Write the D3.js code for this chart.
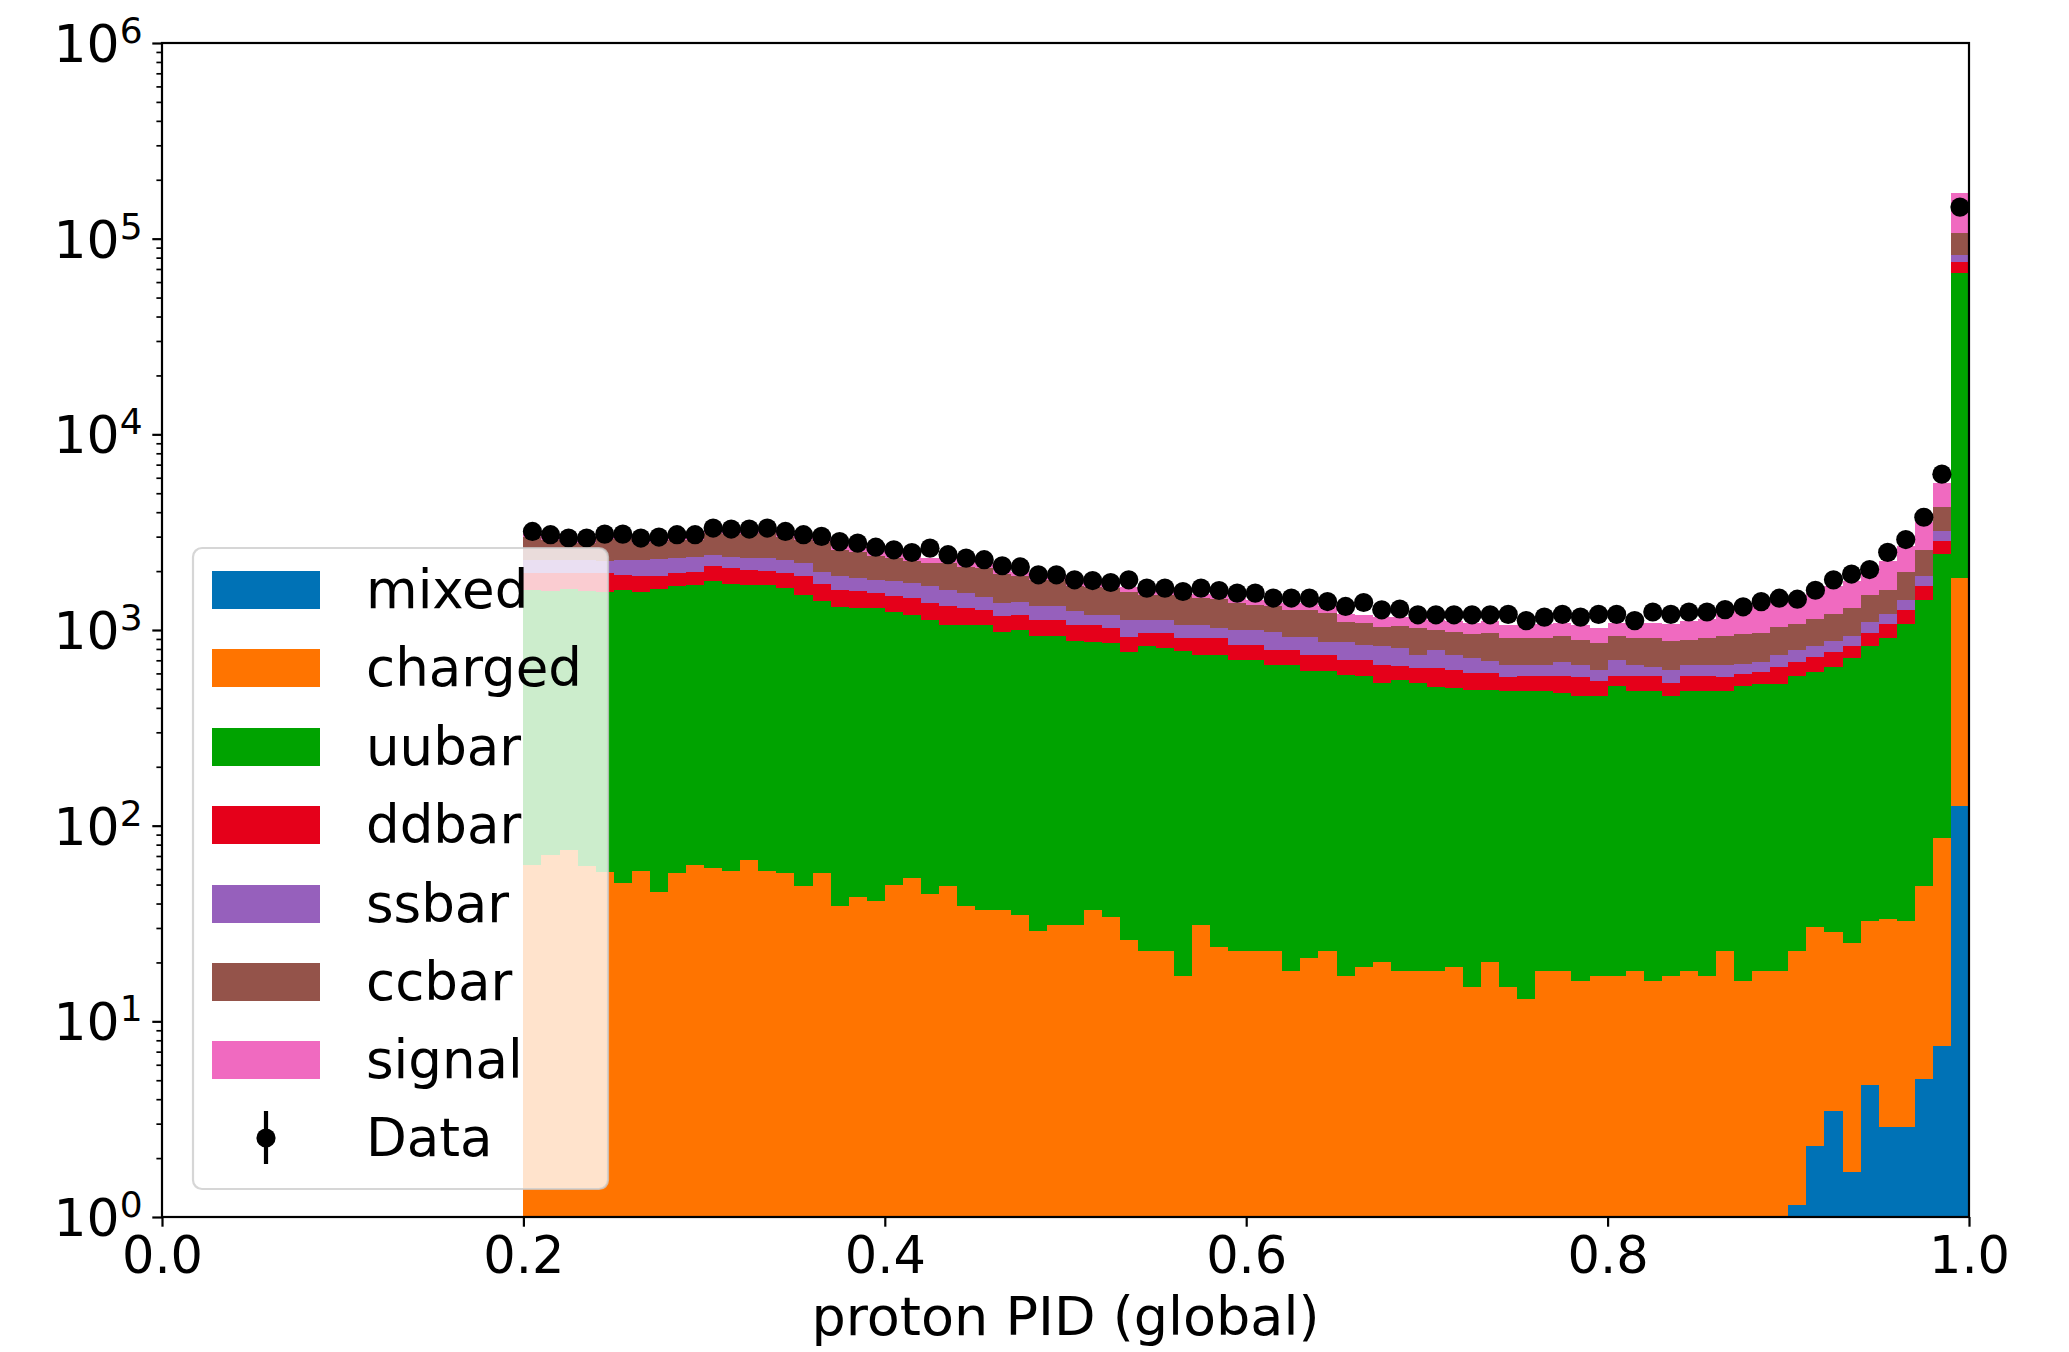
<!DOCTYPE html>
<html><head><meta charset="utf-8">
<script src="https://cdn.jsdelivr.net/npm/d3@7"></script>
<style>
html,body{margin:0;padding:0;background:#fff;}
svg{display:block;font-family:"DejaVu Sans",sans-serif;}
</style></head><body>
<svg id="chart" width="2069" height="1352"></svg>
<script>
// ---------------- data ----------------
const binEdges = [0.20,0.21,0.22,0.23,0.24,0.25,0.26,0.27,0.28,0.29,
  0.30,0.31,0.32,0.33,0.34,0.35,0.36,0.37,0.38,0.39,
  0.40,0.41,0.42,0.43,0.44,0.45,0.46,0.47,0.48,0.49,
  0.50,0.51,0.52,0.53,0.54,0.55,0.56,0.57,0.58,0.59,
  0.60,0.61,0.62,0.63,0.64,0.65,0.66,0.67,0.68,0.69,
  0.70,0.71,0.72,0.73,0.74,0.75,0.76,0.77,0.78,0.79,
  0.80,0.81,0.82,0.83,0.84,0.85,0.86,0.87,0.88,0.89,
  0.90,0.91,0.92,0.93,0.94,0.95,0.96,0.97,0.98,0.99,1.00];

const seriesNames = ["mixed","charged","uubar","ddbar","ssbar","ccbar","signal"];
const seriesColors = ["#0072b6","#ff7400","#00a300","#e5001a","#9660bc","#94534a","#f06ac0"];

const mixed = [0,0,0,0,0,0,0,0,0,0, 0,0,0,0,0,0,0,0,0,0,
  0,0,0,0,0,0,0,0,0,0, 0,0,0,0,0,0,0,0,0,0,
  0,0,0,0,0,0,0,0,0,0, 0,0,0,0,0,0,0,0,0,0,
  0,0,0,0,0,0,0,0,0,0, 1.15,2.3,3.5,1.7,4.7,2.9,2.9,5.1,7.5,126];

const charged = [63,71,75,62,58,51,59,46,57,63,
  61,59,67,59,57,49,57,39,43,41,
  50,54,45,49,39,37,37,35,29,31,
  31,37,34,26,23,23,17,31,24,23,
  23,23,18,21,23,17,19,20,18,18,
  18,19,15,20,15,13,18,18,16,17,
  17,18,16,17,18,17,23,16,18,18,
  21.6,27.9,25.1,23.4,27.7,30.5,29.5,44,79,1724];

const uubar = [1542,1519,1550,1528,1497,1554,1501,1580,1623,1637,
  1709,1659,1633,1641,1588,1461,1353,1276,1247,1249,
  1190,1141,1082,1014,1023,1025,938,965,905,903,
  849,836,823,750,801,785,760,717,724,681,
  681,642,647,593,591,575,566,516,534,518,
  495,485,480,475,472,474,469,459,442,441,
  500,469,471,441,469,470,464,501,510,510,
  561,579,617,690,793,879,1041,1376,2345,64610];

const ddbar = [345,360,325,360,395,305,333,260,270,290,
  360,352,331,310,305,368,308,290,285,255,
  250,255,243,263,228,206,210,200,193,193,
  182,189,165,150,140,156,131,160,160,136,
  136,127,127,134,134,112,119,129,100,104,
  127,122,108,108,85,97,97,107,114,92,
  67,97,97,80,97,97,85,80,81,118,
  103,121,130,110,145,161,190,252,429,9290];

const ssbar = [320,320,320,320,295,375,392,407,380,380,
  295,300,309,330,335,322,272,288,265,260,
  280,287,300,280,255,202,185,198,192,192,
  182,134,174,201,163,163,154,154,114,162,
  162,190,134,178,125,169,136,159,156,108,
  152,122,115,88,88,76,76,103,88,71,
  117,76,62,83,76,76,88,76,78,99,
  105,95,100,106,125,138,162,216,346,6980];

const ccbar = [729,616,503,503,660,620,488,521,556,516,
  696,713,743,781,714,686,839,668,676,593,
  556,516,540,590,564,600,558,480,481,481,
  440,454,434,446,387,387,423,398,418,378,
  342,337,342,342,347,227,245,218,242,274,
  210,234,238,280,252,252,252,244,234,237,
  230,252,266,255,234,252,271,277,283,285,
  281,316,335,357,420,398,545,672,1052,24070];

const signal = [143,138,133,133,139,139,133,134,138,138,
  149,148,148,149,143,138,136,156,153,146,
  141,137,130,133,128,126,117,112,100,90,
  106,87,90,87,86,76,75,70,70,70,
  72,90,100,105,110,110,115,120,120,125,
  125,130,135,140,150,150,155,160,165,165,
  155,160,175,197,223,229,280,313,371,367,
  381,405,466,492,455,641,730,985,1397,63500];

const dataCounts = [3190,3070,2950,2950,3090,3090,2950,2985,3070,3070,
  3320,3280,3280,3320,3190,3070,3010,2830,2780,2650,
  2570,2490,2620,2425,2330,2287,2130,2100,1915,1915,
  1805,1790,1749,1805,1637,1637,1573,1637,1592,1544,
  1544,1456,1456,1456,1398,1319,1382,1268,1280,1196,
  1196,1196,1196,1196,1202,1117,1164,1202,1164,1202,
  1202,1117,1236,1202,1236,1236,1271,1314,1397,1454,
  1437,1596,1804,1931,2037,2494,2898,3768,6260,145000];

const xTicks = [0.0,0.2,0.4,0.6,0.8,1.0];
const xTickLabels = ["0.0","0.2","0.4","0.6","0.8","1.0"];
const yTicks = [1,10,100,1000,10000,100000,1000000];
const yTickExponents = ["0","1","2","3","4","5","6"];
const xLabel = "proton PID (global)";
const dataLabel = "Data";

// ---------------- layout ----------------
const L = 162, R = 1969, T = 43, B = 1217;
const FS = 51;
const svg = d3.select("#chart");

const x = d3.scaleLinear().domain([0,1]).range([L,R]);
const y = d3.scaleLog().domain([1,1e6]).range([B,T]);

const seriesArrays = [mixed,charged,uubar,ddbar,ssbar,ccbar,signal];
const rows = dataCounts.map((_,i)=>{
  const o = {i};
  seriesNames.forEach((n,k)=>o[n]=seriesArrays[k][i]);
  return o;
});
const stacked = d3.stack().keys(seriesNames)(rows);

svg.append("defs").append("clipPath").attr("id","plotclip")
  .append("rect").attr("x",L).attr("y",T).attr("width",R-L).attr("height",B-T);

const gPlot = svg.append("g").attr("clip-path","url(#plotclip)");
const area = d3.area()
  .x(d=>x(d.x))
  .y0(d=>y(Math.max(d.y0,0.01)))
  .y1(d=>y(Math.max(d.y1,0.01)));

stacked.forEach((layer,k)=>{
  const pts = [];
  layer.forEach((seg,i)=>{
    pts.push({x:binEdges[i],y0:seg[0],y1:seg[1]});
    pts.push({x:binEdges[i+1],y0:seg[0],y1:seg[1]});
  });
  gPlot.append("path").datum(pts)
    .attr("d",area)
    .attr("fill",seriesColors[k])
    .attr("shape-rendering","crispEdges");
});

// data points with error bars
const centers = dataCounts.map((_,i)=>(binEdges[i]+binEdges[i+1])/2);
gPlot.selectAll("line.err").data(dataCounts).enter().append("line")
  .attr("x1",(d,i)=>x(centers[i])).attr("x2",(d,i)=>x(centers[i]))
  .attr("y1",d=>y(d+Math.sqrt(d))).attr("y2",d=>y(Math.max(d-Math.sqrt(d),0.5)))
  .attr("stroke","#000").attr("stroke-width",4.2);
gPlot.selectAll("circle.pt").data(dataCounts).enter().append("circle")
  .attr("cx",(d,i)=>x(centers[i])).attr("cy",d=>y(d)).attr("r",9.6).attr("fill","#000");

// ---------------- axes ----------------
const xAxis = d3.axisBottom(x).tickValues(xTicks).tickSize(9.7).tickPadding(9.7)
  .tickFormat((d,i)=>xTickLabels[i]).tickSizeOuter(0);
const gx = svg.append("g").attr("transform",`translate(0,${B})`).call(xAxis);
gx.select(".domain").remove();
gx.selectAll("line").attr("stroke","#000").attr("stroke-width",2.2);
gx.selectAll("text").attr("font-size",FS).attr("font-family","DejaVu Sans").attr("fill","#000");

const minorY = [];
for (let k=0;k<6;k++) for (let m=2;m<=9;m++) minorY.push(m*Math.pow(10,k));
const yMinor = d3.axisLeft(y).tickValues(minorY).tickSize(5.6).tickFormat(()=>"").tickSizeOuter(0);
const gym = svg.append("g").attr("transform",`translate(${L},0)`).call(yMinor);
gym.select(".domain").remove();
gym.selectAll("line").attr("stroke","#000").attr("stroke-width",1.7);

const yMajor = d3.axisLeft(y).tickValues(yTicks).tickSize(9.7).tickFormat(()=>"").tickSizeOuter(0);
const gy = svg.append("g").attr("transform",`translate(${L},0)`).call(yMajor);
gy.select(".domain").remove();
gy.selectAll("line").attr("stroke","#000").attr("stroke-width",2.2);

yTicks.forEach((v,i)=>{
  const t = svg.append("text").attr("x",L-9.7-9.7).attr("y",y(v)+19)
    .attr("text-anchor","end").attr("font-size",FS+1).attr("fill","#000");
  t.append("tspan").text("10");
  t.append("tspan").attr("font-size",36).attr("dy",-19).text(yTickExponents[i]);
});

// frame
svg.append("rect").attr("x",L).attr("y",T).attr("width",R-L).attr("height",B-T)
  .attr("fill","none").attr("stroke","#000").attr("stroke-width",2.2);

svg.append("text").attr("x",(L+R)/2).attr("y",1335).attr("text-anchor","middle")
  .attr("font-size",54).attr("fill","#000").text(xLabel);

// ---------------- legend ----------------
const lg = svg.append("g");
lg.append("rect").attr("x",193).attr("y",548).attr("width",415).attr("height",641)
  .attr("rx",9).attr("ry",9)
  .attr("fill","#fff").attr("fill-opacity",0.8)
  .attr("stroke","#cccccc").attr("stroke-opacity",0.8).attr("stroke-width",2.2);
const rowY = [590,668,747,825,904,982,1060,1138];
seriesNames.forEach((n,k)=>{
  lg.append("rect").attr("x",212).attr("y",rowY[k]-19).attr("width",108).attr("height",38)
    .attr("fill",seriesColors[k]);
  lg.append("text").attr("x",366).attr("y",rowY[k]+18).attr("font-size",53)
    .attr("fill","#000").text(n);
});
lg.append("line").attr("x1",266).attr("x2",266).attr("y1",rowY[7]-27).attr("y2",rowY[7]+26)
  .attr("stroke","#000").attr("stroke-width",4.2);
lg.append("circle").attr("cx",266).attr("cy",rowY[7]).attr("r",9.6).attr("fill","#000");
lg.append("text").attr("x",366).attr("y",rowY[7]+18).attr("font-size",53)
  .attr("fill","#000").text(dataLabel);
</script>
</body></html>
